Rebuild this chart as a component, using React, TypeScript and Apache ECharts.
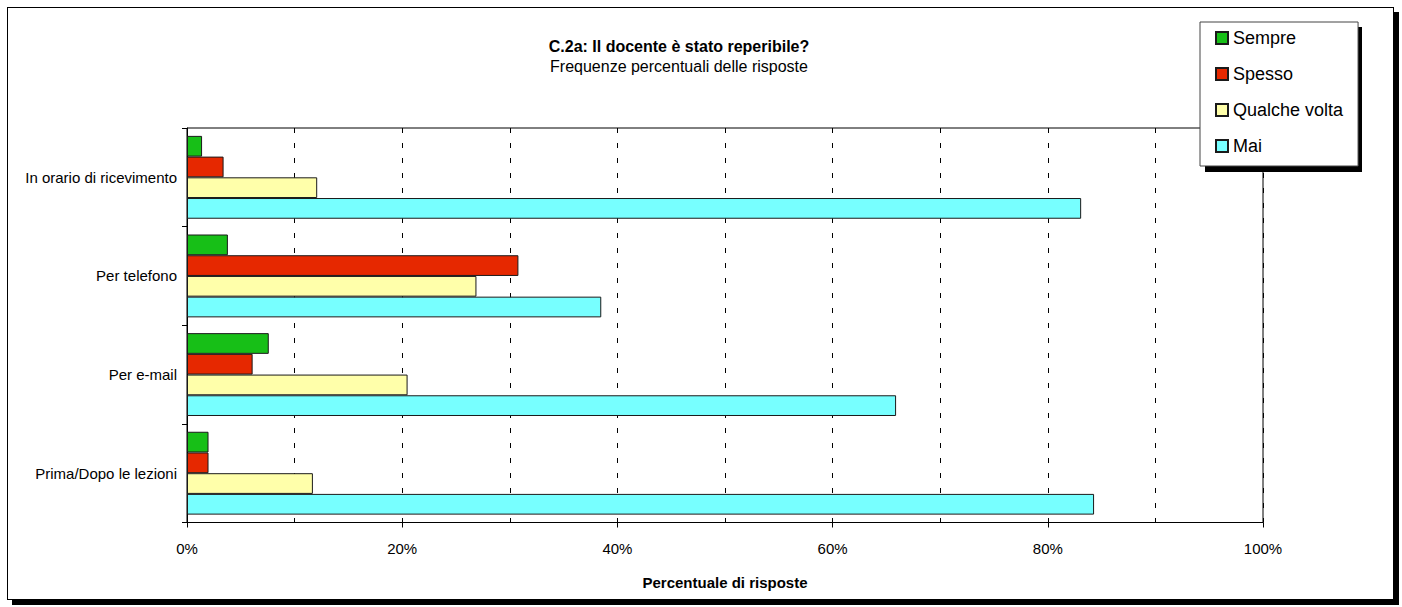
import React, { useEffect, useRef } from 'react';
import * as echarts from 'echarts';

const categories = ['In orario di ricevimento', 'Per telefono', 'Per e-mail', 'Prima/Dopo le lezioni'];
const seriesNames = ['Sempre', 'Spesso', 'Qualche volta', 'Mai'];
const sempre = [1.4, 3.8, 7.6, 2.0];
const spesso = [3.4, 30.8, 6.1, 2.0];
const qualcheVolta = [12.1, 26.9, 20.5, 11.7];
const mai = [83.1, 38.5, 65.9, 84.3];
const colors = ['#17BF17', '#E62800', '#FFFFAA', '#77FFFF'];

const titleText = 'C.2a: Il docente è stato reperibile?';
const subtitleText = 'Frequenze percentuali delle risposte';
const xAxisName = 'Percentuale di risposte';

export default function App() {
  const ref = useRef<HTMLDivElement>(null);
  useEffect(() => {
    const chart = echarts.init(ref.current!, undefined, { renderer: 'svg' });
    const font = "'Liberation Sans', Arial, Helvetica, sans-serif";
    const values = [sempre, spesso, qualcheVolta, mai];
    const dashed = { color: '#000', width: 1, type: [5, 10] as any };
    chart.setOption({
      animation: false,
      textStyle: { fontFamily: font },
      title: [
        {
          text: titleText, left: 679, top: 38, padding: 0, textAlign: 'center',
          textStyle: { fontSize: 16, fontWeight: 'bold', color: '#000', fontFamily: font },
        },
        {
          text: subtitleText, left: 679, top: 58, padding: 0, textAlign: 'center',
          textStyle: { fontSize: 16, fontWeight: 'normal', color: '#000', fontFamily: font },
        },
      ],
      legend: {
        data: seriesNames,
        orient: 'vertical',
        left: 1200,
        top: 22,
        padding: [7, 15, 11, 15],
        itemWidth: 12,
        itemHeight: 12,
        itemGap: 18,
        icon: 'rect',
        selectedMode: false,
        backgroundColor: '#fff',
        borderColor: '#444',
        borderWidth: 1,
        z: 10,
        textStyle: { fontSize: 18, lineHeight: 18, color: '#000', fontFamily: font },
      },
      grid: {
        left: 187, right: 139, top: 128, bottom: 84.5,
        show: true, borderColor: '#000', borderWidth: 1, backgroundColor: 'transparent',
      },
      xAxis: {
        type: 'value', min: 0, max: 100, interval: 20,
        axisLine: { show: true, lineStyle: { color: '#000', width: 1 } },
        axisTick: { show: true, length: 5, lineStyle: { color: '#000' } },
        axisLabel: { formatter: '{value}%', fontSize: 15, color: '#000', margin: 18, fontFamily: font },
        splitLine: { show: true, lineStyle: dashed },
        minorTick: { show: false, splitNumber: 2 },
        minorSplitLine: { show: true, lineStyle: dashed },
        name: xAxisName,
        nameLocation: 'middle',
        nameGap: 52,
        nameTextStyle: { fontSize: 15, fontWeight: 'bold', color: '#000', fontFamily: font },
      },
      yAxis: {
        type: 'category', data: categories, inverse: true,
        axisLine: { show: true, lineStyle: { color: '#000', width: 1 } },
        axisTick: { show: true, length: 5, lineStyle: { color: '#000' } },
        axisLabel: { fontSize: 15, color: '#000', margin: 10, fontFamily: font },
        splitLine: { show: false },
      },
      series: seriesNames.map((name, i) => ({
        name,
        type: 'bar',
        data: values[i],
        barGap: '0%',
        barCategoryGap: '16%',
        itemStyle: { color: colors[i], borderColor: '#1a1a1a', borderWidth: 1 },
      })),
    });
    return () => chart.dispose();
  }, []);
  return (
    <div style={{ position: 'absolute', left: 0, top: 0, width: 1402, height: 607, background: '#fff' }}>
      <div style={{ position: 'absolute', left: 7, top: 7, width: 1385, height: 591, border: '1px solid #000', boxShadow: '5px 5px 0 0 #000', background: '#fff' }} />
      <div style={{ position: 'absolute', left: 1205, top: 27, width: 157, height: 145, background: '#000' }} />
      <div ref={ref} style={{ position: 'absolute', left: 0, top: 0, width: 1402, height: 607 }} />
    </div>
  );
}
